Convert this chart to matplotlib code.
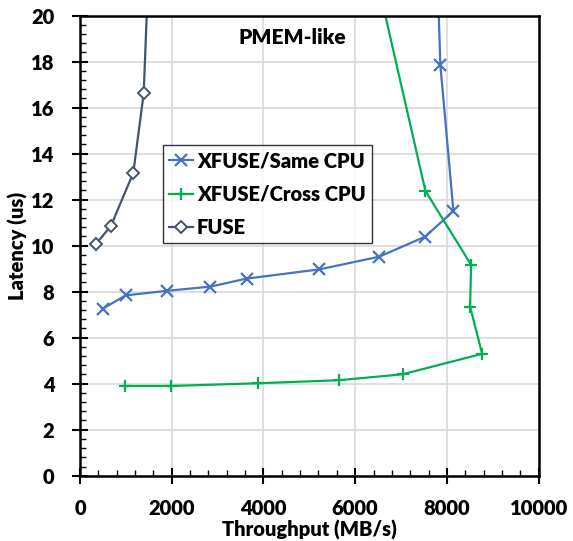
import matplotlib
matplotlib.use("Agg")
import matplotlib.pyplot as plt
from matplotlib.ticker import MultipleLocator

plt.rcParams['font.family'] = ['Lato', 'DejaVu Sans']
plt.rcParams['font.weight'] = 'bold'

same_x = [495, 997, 1905, 2843, 3635, 5220, 6521, 7525, 8142, 7858, 7659]
same_y = [7.26, 7.84, 8.04, 8.22, 8.57, 8.97, 9.52, 10.39, 11.51, 17.84, 30.0]

cross_x = [981, 1978, 3876, 5642, 7038, 8768, 8506, 8528, 7532, 6200]
cross_y = [3.90, 3.90, 4.02, 4.15, 4.41, 5.30, 7.35, 9.17, 12.38, 24.0]

fuse_x = [349, 676, 1163, 1389, 1650]
fuse_y = [10.07, 10.87, 13.17, 16.63, 30.0]

x_ticks = [0, 2000, 4000, 6000, 8000, 10000]
y_ticks = [0, 2, 4, 6, 8, 10, 12, 14, 16, 18, 20]

W = 'heavy'

fig = plt.figure(figsize=(5.73, 5.41), dpi=100)
ax = fig.add_axes([0.1396, 0.1207, 0.8004, 0.8503])

ax.plot(same_x, same_y, color='#4472C4', lw=1.6, marker='x', ms=9, mew=1.6,
        label='XFUSE/Same CPU')
ax.plot(cross_x, cross_y, color='#00B050', lw=1.6, marker='+', ms=9, mew=1.6,
        label='XFUSE/Cross CPU')
ax.plot(fuse_x, fuse_y, color='#44546A', lw=1.6, marker='D', ms=6, mew=1.4,
        mfc='white', label='FUSE')

ax.set_xlim(0, 10000)
ax.set_ylim(0, 20)
ax.set_xticks(x_ticks)
ax.set_yticks(y_ticks)
ax.xaxis.set_minor_locator(MultipleLocator(400))
ax.yaxis.set_minor_locator(MultipleLocator(0.4))
ax.tick_params(which='major', direction='inout', length=11, width=1.5,
               labelsize=14.5)
ax.tick_params(axis='x', which='major', pad=11)
ax.tick_params(axis='y', which='major', pad=13)
ax.tick_params(which='minor', direction='in', length=4.5, width=1.0)
for lab in ax.get_xticklabels() + ax.get_yticklabels():
    lab.set_fontweight(W)

ax.grid(True, which='major', color='#d9d9d9', lw=1.2)
ax.set_axisbelow(True)
for s in ax.spines.values():
    s.set_linewidth(1.8)
    s.set_color('black')

ax.set_xlabel('Throughput (MB/s)', fontsize=14.5, fontweight=W, labelpad=2)
ax.set_ylabel('Latency (us)', fontsize=14.5, fontweight=W, labelpad=2)

ax.text(4635, 19.03, 'PMEM-like', fontsize=15, fontweight=W,
        ha='center', va='center')

leg = ax.legend(loc='upper left', bbox_to_anchor=(0.18, 0.718),
                prop={'size': 14.5, 'weight': W},
                frameon=True, fancybox=False, edgecolor='black',
                handlelength=1.2, handletextpad=0.2, borderpad=0.3,
                labelspacing=0.72, borderaxespad=0)
leg.get_frame().set_linewidth(1.0)

fig.savefig('out.png', dpi=100)
